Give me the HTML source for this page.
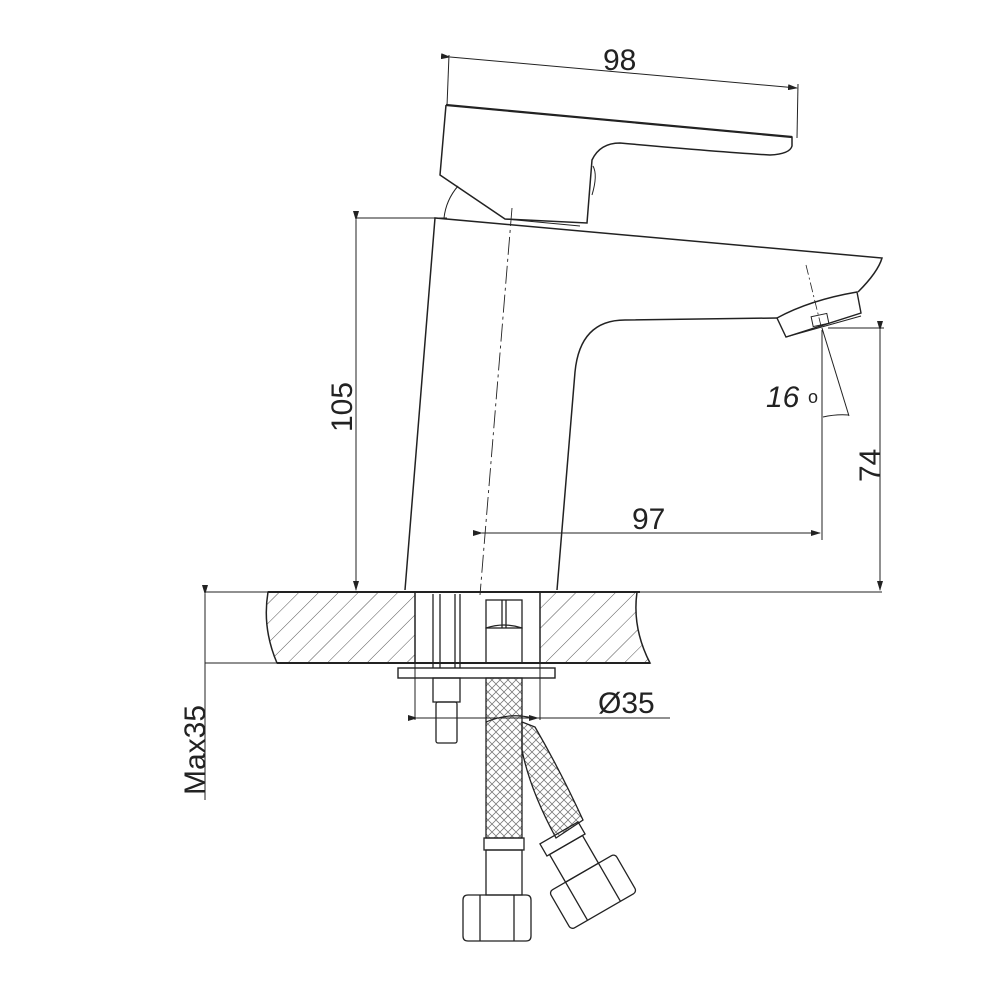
<!DOCTYPE html>
<html><head><meta charset="utf-8"><style>
html,body{margin:0;padding:0;background:#fff;}
svg{display:block;}
text{font-family:"Liberation Sans",Arial,sans-serif;fill:#222;}
</style></head><body>
<svg width="1000" height="1000" viewBox="0 0 1000 1000" xmlns="http://www.w3.org/2000/svg">
<defs>
<pattern id="hatch" patternUnits="userSpaceOnUse" width="14" height="14" patternTransform="rotate(45)">
<line x1="0" y1="0" x2="0" y2="14" stroke="#555" stroke-width="1"/>
</pattern>
<pattern id="braid" patternUnits="userSpaceOnUse" width="8" height="8">
<path d="M0 4 L4 0 M4 8 L8 4 M0 4 L4 8 M4 0 L8 4" stroke="#777" stroke-width="0.8" fill="none"/>
</pattern>
<marker id="ar" markerWidth="10" markerHeight="6" refX="9" refY="3" orient="auto" markerUnits="userSpaceOnUse">
<path d="M0 0 L10 3 L0 6 z" fill="#222"/></marker>
</defs>
<g stroke="#222" stroke-width="1.3" fill="none">
<line x1="450" y1="57" x2="797" y2="88" stroke-width="1" marker-start="url(#ar)" marker-end="url(#ar)"/>
<line x1="449" y1="55" x2="447" y2="106" stroke-width="1"/>
<line x1="798" y1="84" x2="797" y2="138" stroke-width="1"/>
<path d="M446 105 L792 137 L792 146 Q790 154 770 155 Q720 152 620 143 Q600 143 592 160 L587 223 L505 219 L440 175 L446 105" stroke-width="1.5"/>
<line x1="446" y1="105" x2="792" y2="137" stroke-width="2.2"/>
<path d="M593 166 Q598 175 592 195" stroke-width="1"/>
<path d="M444 218 Q446 200 458 186" stroke-width="1"/>
<path d="M405 590 L435 218 L882 258 Q878 272 858 292" stroke-width="1.5"/>
<line x1="505" y1="219" x2="580" y2="226" stroke-width="1"/>
<path d="M557 590 L575 372 Q580 320 625 320 L777 318" stroke-width="1.5"/>
<path d="M777 318 Q810 300 857 292 L861 313 L786 337 Z" stroke-width="1.4"/>
<line x1="786" y1="337" x2="861" y2="316" stroke-width="1"/>
<rect x="812" y="315" width="16" height="10" transform="rotate(-12 820 320)" stroke-width="1"/>
<line x1="806" y1="265" x2="822" y2="330" stroke-width="0.8" stroke-dasharray="10,3,2,3"/>
<line x1="512" y1="208" x2="480" y2="595" stroke-width="0.9" stroke-dasharray="18,4,3,4"/>
<line x1="356" y1="218" x2="447" y2="218" stroke-width="1"/>
<line x1="356" y1="220" x2="356" y2="590" stroke-width="1" marker-start="url(#ar)" marker-end="url(#ar)"/>
<line x1="828" y1="328" x2="884" y2="328" stroke-width="1"/>
<line x1="880" y1="330" x2="880" y2="590" stroke-width="1" marker-start="url(#ar)" marker-end="url(#ar)"/>
<line x1="822" y1="330" x2="822" y2="540" stroke-width="1"/>
<line x1="482" y1="533" x2="820" y2="533" stroke-width="1" marker-start="url(#ar)" marker-end="url(#ar)"/>
<line x1="822" y1="328" x2="849" y2="416" stroke-width="1"/>
<path d="M823 417 Q836 414 849 415" stroke-width="1"/>
<line x1="205" y1="592" x2="882" y2="592" stroke-width="1"/>
<line x1="205" y1="663" x2="280" y2="663" stroke-width="1"/>
<path d="M268 592 Q262 628 277 663 L415 663 L415 592 Z" fill="url(#hatch)" stroke-width="1.5"/>
<path d="M540 592 L637 592 Q632 628 650 663 L540 663 Z" fill="url(#hatch)" stroke-width="1.5"/>
<line x1="268" y1="592" x2="640" y2="592" stroke-width="2"/>
<line x1="277" y1="663" x2="650" y2="663" stroke-width="2"/>
<line x1="415" y1="592" x2="415" y2="720" stroke-width="1"/>
<line x1="540" y1="592" x2="540" y2="720" stroke-width="1"/>
<line x1="205" y1="594" x2="205" y2="800" stroke-width="1" marker-start="url(#ar)"/>
<rect x="398" y="668" width="157" height="10" stroke-width="1.4"/>
<line x1="433" y1="594" x2="433" y2="668"/><line x1="440" y1="594" x2="440" y2="668"/>
<line x1="455" y1="594" x2="455" y2="668"/><line x1="460" y1="594" x2="460" y2="668"/>
<rect x="433" y="678" width="27" height="24"/>
<rect x="436" y="702" width="21" height="41" rx="2"/>
<rect x="486" y="600" width="36" height="28"/>
<line x1="502" y1="600" x2="502" y2="628"/><line x1="506" y1="600" x2="506" y2="628"/>
<path d="M486 628 Q504 622 522 628 L522 663 L486 663 Z"/>
<rect x="486" y="678" width="36" height="160" fill="url(#braid)"/>
<path d="M486 722 Q510 712 532 718" stroke-width="1.2"/>
<rect x="484" y="838" width="40" height="12"/>
<rect x="486" y="850" width="36" height="45"/>
<path d="M468 895 L526 895 Q531 895 531 900 L531 936 Q531 941 526 941 L468 941 Q463 941 463 936 L463 900 Q463 895 468 895 Z"/>
<line x1="480" y1="895" x2="480" y2="941"/><line x1="514" y1="895" x2="514" y2="941"/>
<path d="M522 722 L535 727 Q560 770 583 820 L556 838 Q530 790 522 750 Z" fill="url(#braid)"/>
<g transform="translate(592 890) rotate(-30)">
<rect x="-22" y="-66" width="44" height="14"/>
<rect x="-19" y="-52" width="38" height="32"/>
<rect x="-38" y="-20" width="76" height="44" rx="4"/>
<line x1="-19" y1="-20" x2="-19" y2="24"/><line x1="19" y1="-20" x2="19" y2="24"/>
</g>
<line x1="417" y1="718" x2="538" y2="718" stroke-width="1" marker-start="url(#ar)" marker-end="url(#ar)"/>
<line x1="538" y1="718" x2="670" y2="718" stroke-width="1"/>
</g>
<text x="603" y="70" font-size="30">98</text>
<text x="632" y="529" font-size="30">97</text>
<text x="598" y="713" font-size="30">Ø35</text>
<text x="766" y="407" font-size="30" font-style="italic">16</text><text x="808" y="403" font-size="18">o</text>
<text transform="translate(352 432) rotate(-90)" font-size="30">105</text>
<text transform="translate(880 482) rotate(-90)" font-size="30">74</text>
<text transform="translate(205 795) rotate(-90)" font-size="30">Max35</text>
</svg>
</body></html>
